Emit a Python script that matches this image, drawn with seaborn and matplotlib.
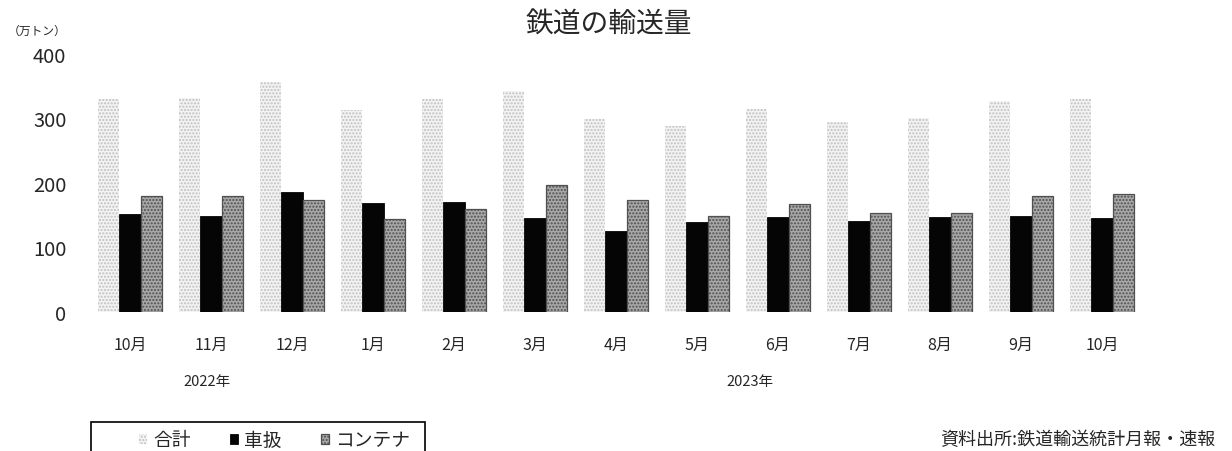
import pandas as pd
import matplotlib.pyplot as plt
import seaborn as sns
from matplotlib.patches import Rectangle

# データ (万トン)
meses = ['10月', '11月', '12月', '1月', '2月', '3月', '4月', '5月', '6月', '7月', '8月', '9月', '10月']
chaves = ['2022-10', '2022-11', '2022-12', '2023-01', '2023-02', '2023-03', '2023-04',
          '2023-05', '2023-06', '2023-07', '2023-08', '2023-09', '2023-10']
total = [330, 331, 356, 313, 329, 342, 299, 288, 314, 294, 301, 327, 329]
shaatsukai = [152, 148, 186, 169, 170, 146, 125, 139, 147, 141, 147, 148, 146]
container = [180, 180, 173, 144, 159, 196, 174, 149, 167, 153, 154, 179, 183]
series = ['合計', '車扱', 'コンテナ']
anos = ['2022年', '2023年']

sns.set_theme(style='white')
plt.rcParams['font.family'] = ['Noto Sans CJK JP', 'DejaVu Sans']

df = pd.DataFrame({
    'mes': chaves * 3,
    'valor': total + shaatsukai + container,
    'serie': [series[0]] * 13 + [series[1]] * 13 + [series[2]] * 13,
})

fig = plt.figure(figsize=(12.32, 4.52), dpi=100)
ax = fig.add_axes([73.3 / 1232, 139 / 452, 1085.4 / 1232, 258.4 / 452])

paleta = {'合計': '#f3f3f3', '車扱': '#050505', 'コンテナ': '#a8a8a8'}
sns.barplot(data=df, x='mes', y='valor', hue='serie', order=chaves, hue_order=series,
            palette=paleta, width=0.78, saturation=1, legend=False, ax=ax)

# estilos das barras
estilos = [
    dict(hatch='.....', edgecolor='#c0c0c0', linewidth=0),
    dict(hatch=None, edgecolor='#050505', linewidth=0.6),
    dict(hatch='.....', edgecolor='#505050', linewidth=0.9),
]
for cont, est in zip(ax.containers, estilos):
    for barra in cont:
        barra.set_edgecolor(est['edgecolor'])
        barra.set_linewidth(est['linewidth'])
        if est['hatch']:
            barra.set_hatch(est['hatch'])

ax.set_xlim(-0.7, 12.7)
ax.set_ylim(0, 400)
ax.set_yticks([0, 100, 200, 300, 400])
ax.set_xticks(range(13))
ax.set_xticklabels(meses, fontsize=11.5)
ax.tick_params(axis='x', length=0, pad=17)
ax.tick_params(axis='y', length=0, pad=5, labelsize=14.5)
ax.set_xlabel('')
ax.set_ylabel('')
for s in ax.spines.values():
    s.set_visible(False)

fig.text(609 / 1232, 1 - 25 / 452, '鉄道の輸送量', fontsize=20, ha='center', va='center')
fig.text(8 / 1232, 1 - 31 / 452, '（万トン）', fontsize=8.5, ha='left', va='center')
fig.text(207 / 1232, 1 - 382 / 452, anos[0], fontsize=10.5, ha='center', va='center')
fig.text(750 / 1232, 1 - 382 / 452, anos[1], fontsize=10.5, ha='center', va='center')
fig.text(1215 / 1232, 1 - 440 / 452, '資料出所:鉄道輸送統計月報・速報', fontsize=13,
         ha='right', va='center')

# legenda
handles = [ax.containers[i][0] for i in range(3)]
fig.legend(handles, series, loc='center left', bbox_to_anchor=(130 / 1232, 1 - 441 / 452),
           ncol=3, frameon=False, fontsize=13.5, handlelength=0.4, handleheight=0.4,
           handletextpad=0.35, columnspacing=2.1, borderpad=0)
fig.patches.append(Rectangle((91 / 1232, -0.05), 334 / 1232, 0.05 + (452 - 423) / 452,
                             transform=fig.transFigure, fill=False, edgecolor='black',
                             linewidth=1.2))

plt.savefig('out.png', dpi=100)
